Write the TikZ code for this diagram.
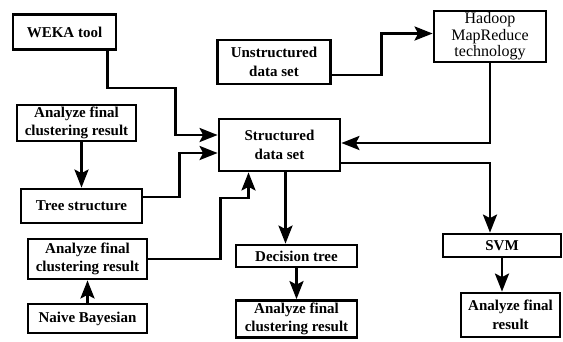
\documentclass[tikz,border=0pt]{standalone}
\usepackage{fontspec}
\setmainfont{Liberation Serif}
\usetikzlibrary{arrows.meta, positioning}

\begin{document}
\begin{tikzpicture}[x=1pt, y=-1pt, >={Stealth[length=18pt, width=14pt, inset=3.5pt]}]
    \tikzstyle{box} = [rectangle, draw=black, fill=white, line width=2.8pt, inner sep=0pt, align=center, font=\fontsize{15}{18.5}\selectfont]
    \tikzstyle{techbox} = [box, font=\fontsize{16}{16.5}\selectfont]
    \tikzstyle{link} = [draw, ->, line width=2.8pt]
    \useasboundingbox (0,0) rectangle (563,341);

    \node [box, minimum width=103pt, minimum height=35pt] (weka) at (64.5,32) {\bfseries WEKA tool};
    \node [box, minimum width=113pt, minimum height=44pt] (unstr) at (274,62) {\bfseries Unstructured\\\bfseries data set};
    \node [techbox, minimum width=112pt, minimum height=51pt] (hadoop) at (490,36.5) {Hadoop\\MapReduce\\technology};
    \node [box, minimum width=119pt, minimum height=36pt] (an1) at (76.5,123) {\bfseries Analyze final\\\bfseries clustering result};
    \node [box, minimum width=121pt, minimum height=52pt] (struct) at (279.5,145) {\bfseries Structured\\\bfseries data set};
    \node [box, minimum width=121pt, minimum height=34pt] (tree) at (81.5,206) {\bfseries Tree structure};
    \node [box, minimum width=119pt, minimum height=40pt] (an2) at (87.5,259) {\bfseries Analyze final\\\bfseries clustering result};
    \node [box, minimum width=119pt, minimum height=29pt] (naive) at (87.5,318.5) {\bfseries Naive Bayesian};
    \node [box, minimum width=121pt, minimum height=22pt] (dtree) at (296.5,256) {\bfseries Decision tree};
    \node [box, minimum width=121pt, minimum height=37pt] (an3) at (296.5,319) {\bfseries Analyze final\\\bfseries clustering result};
    \node [box, minimum width=118pt, minimum height=23pt] (svm) at (502,245.5) {\bfseries SVM};
    \node [box, minimum width=99pt, minimum height=44pt] (an4) at (510.5,315) {\bfseries Analyze final\\\bfseries result};

    % inputs of the structured data set
    \path [link] ([xshift=-10pt]weka.south east) -- ++(0,37) -| ([xshift=-42pt,yshift=10pt]struct.west) -- ([yshift=10pt]struct.west);
    \path [link] ([yshift=9pt]tree.east) -| ([xshift=-38pt,yshift=-8pt]struct.west) -- ([yshift=-8pt]struct.west);
    \path [link] (an1.south -| tree.north) -- (tree.north);
    \path [link] (an2.east) -| ++(72,-61) -| ([xshift=-31pt]struct.south);
    \path [link] (naive) -- (an2);
    \path [link] ([yshift=-13pt]unstr.east) -| ([xshift=-51pt,yshift=3pt]hadoop.west) -- ([yshift=3pt]hadoop.west);
    \path [link] (hadoop.south) |- ([yshift=2pt]struct.east);

    % outputs
    \path [link] ([yshift=-18pt]struct.east) -| (svm.north -| hadoop.south);
    \path [link] ([xshift=6pt]struct.south) -- ([xshift=6pt]struct.south |- dtree.north);
    \path [link] (dtree) -- (an3);
    \path [link] (svm.south) -- (svm.south |- an4.north);
\end{tikzpicture}
\end{document}
